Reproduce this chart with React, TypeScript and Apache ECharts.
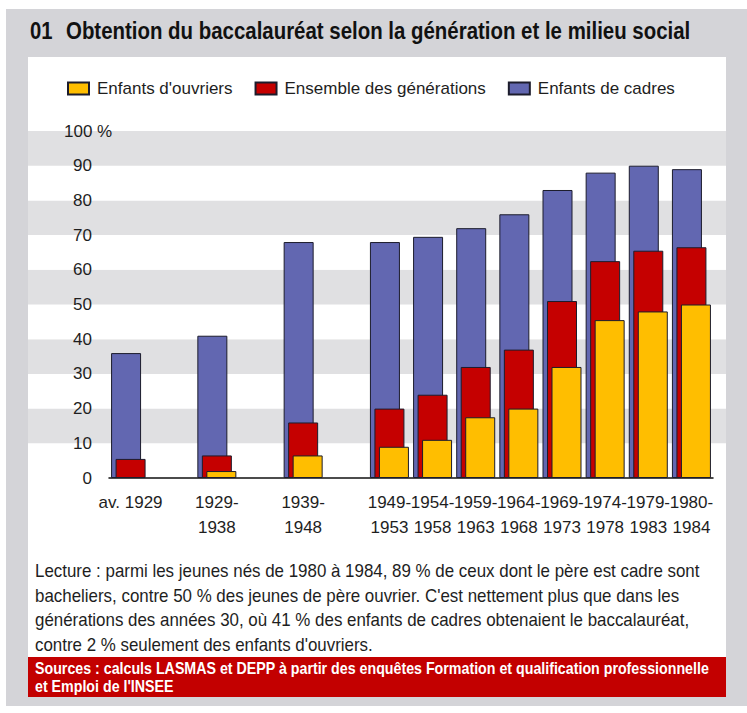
import React, { useEffect, useRef } from 'react';
import * as echarts from 'echarts';

const SANS = "'Liberation Sans', Arial, Helvetica, sans-serif";

const categories = [
  'av. 1929', '', '1929-\n1938', '', '1939-\n1948', '',
  '1949-\n1953', '1954-\n1958', '1959-\n1963', '1964-\n1968',
  '1969-\n1973', '1974-\n1978', '1979-\n1983', '1980-\n1984',
];
const cadres = [36, null, 41, null, 68, null, 68, 69.5, 72, 76, 83, 88, 90, 89];
const ensemble = [5.5, null, 6.5, null, 16, null, 20, 24, 32, 37, 51, 62.5, 65.5, 66.5];
const ouvriers = [null, null, 2, null, 6.5, null, 9, 11, 17.5, 20, 32, 45.5, 48, 50];

const nameOuvriers = "Enfants d'ouvriers";
const nameEnsemble = 'Ensemble des générations';
const nameCadres = 'Enfants de cadres';

const titleNum = '01';
const titleText = 'Obtention du baccalauréat selon la génération et le milieu social';
const lectureText = [
  'Lecture : parmi les jeunes nés de 1980 à 1984, 89 % de ceux dont le père est cadre sont',
  "bacheliers, contre 50 % des jeunes de père ouvrier. C'est nettement plus que dans les",
  'générations des années 30, où 41 % des enfants de cadres obtenaient le baccalauréat,',
  "contre 2 % seulement des enfants d'ouvriers.",
].join('\n');
const sourcesText = [
  'Sources : calculs LASMAS et DEPP à partir des enquêtes Formation et qualification professionnelle',
  "et Emploi de l'INSEE",
].join('\n');

export default function App() {
  const ref = useRef<HTMLDivElement>(null);
  useEffect(() => {
    if (!ref.current) return;
    const chart = echarts.init(ref.current, undefined, { renderer: 'svg' });
    const barBorder = '#1c1c2c';
    const txt = '#1e1e1e';
    const option: any = {
      animation: false,
      backgroundColor: '#ffffff',
      graphic: [
        { type: 'rect', z: -10, shape: { x: 6, y: 9, width: 741, height: 697 }, style: { fill: '#d4d4d8' } },
        { type: 'rect', z: -9, shape: { x: 28, y: 57, width: 698, height: 600 }, style: { fill: '#ffffff' } },
        { type: 'rect', z: -9, shape: { x: 28, y: 657, width: 698, height: 40 }, style: { fill: '#c30000' } },
        { type: 'text', x: 30, y: 31, scaleX: 0.88, style: { text: titleNum, font: `bold 23px ${SANS}`, fill: '#111', verticalAlign: 'middle' } },
        { type: 'text', x: 66, y: 31, scaleX: 0.888, style: { text: titleText, font: `bold 23px ${SANS}`, fill: '#111', verticalAlign: 'middle' } },
        { type: 'text', x: 35, y: 559, scaleX: 0.94, style: { text: lectureText, font: `18px ${SANS}`, lineHeight: 24.5, fill: txt } },
        { type: 'text', x: 35, y: 659, scaleX: 0.89, style: { text: sourcesText, font: `bold 16px ${SANS}`, lineHeight: 18, fill: '#ffffff' } },
      ],
      legend: {
        data: [nameOuvriers, nameEnsemble, nameCadres],
        left: 67,
        top: 80,
        padding: 0,
        icon: 'rect',
        itemWidth: 21,
        itemHeight: 12,
        itemGap: 22,
        textStyle: { fontSize: 17, fontFamily: SANS, color: txt, padding: [0, 0, 0, 3] },
      },
      grid: [
        { left: 28, right: 21, top: 131, bottom: 235 },
        { left: 109, right: 34, top: 131, bottom: 235 },
      ],
      xAxis: [
        { gridIndex: 0, type: 'value', min: 0, max: 1, show: false },
        {
          gridIndex: 1,
          type: 'category',
          data: categories,
          axisLine: { lineStyle: { color: '#111', width: 1.5 } },
          axisTick: { length: 6, lineStyle: { color: '#111', width: 1.5 } },
          axisLabel: { interval: 0, fontSize: 17, fontFamily: SANS, color: txt, lineHeight: 25, margin: 12 },
        },
      ],
      yAxis: [
        {
          gridIndex: 0, type: 'value', min: 0, max: 100, interval: 10,
          axisLabel: { show: false }, axisLine: { show: false }, axisTick: { show: false },
          splitLine: { show: false },
          splitArea: { show: true, areaStyle: { color: ['#ffffff', '#e0e0e2'] } },
        },
        {
          gridIndex: 1, type: 'value', min: 0, max: 100, interval: 10,
          axisLine: { show: false }, axisTick: { show: false }, splitLine: { show: false },
          axisLabel: {
            align: 'left',
            margin: 45,
            formatter: (v: number) => (v === 100 ? '{m|100}{s| %}' : `{n|${v}}`),
            rich: {
              n: { width: 28, align: 'right', fontSize: 17, fontFamily: SANS, color: txt },
              m: { fontSize: 17, fontFamily: SANS, color: txt },
              s: { fontSize: 17, fontFamily: SANS, color: txt },
            },
          },
        },
      ],
      series: [
        {
          name: nameCadres, type: 'bar', xAxisIndex: 1, yAxisIndex: 1, data: cadres,
          barWidth: 30, barGap: '-85%',
          itemStyle: { color: '#6267b1', borderColor: barBorder, borderWidth: 1 },
        },
        {
          name: nameEnsemble, type: 'bar', xAxisIndex: 1, yAxisIndex: 1, data: ensemble,
          barWidth: 30, barGap: '-85%',
          itemStyle: { color: '#c50000', borderColor: barBorder, borderWidth: 1 },
        },
        {
          name: nameOuvriers, type: 'bar', xAxisIndex: 1, yAxisIndex: 1, data: ouvriers,
          barWidth: 30, barGap: '-85%',
          itemStyle: { color: '#ffbe00', borderColor: barBorder, borderWidth: 1 },
        },
      ],
    };
    chart.setOption(option);
    return () => chart.dispose();
  }, []);
  return (
    <div
      ref={ref}
      style={{ position: 'absolute', left: 0, top: 0, width: 747, height: 713 }}
    />
  );
}
